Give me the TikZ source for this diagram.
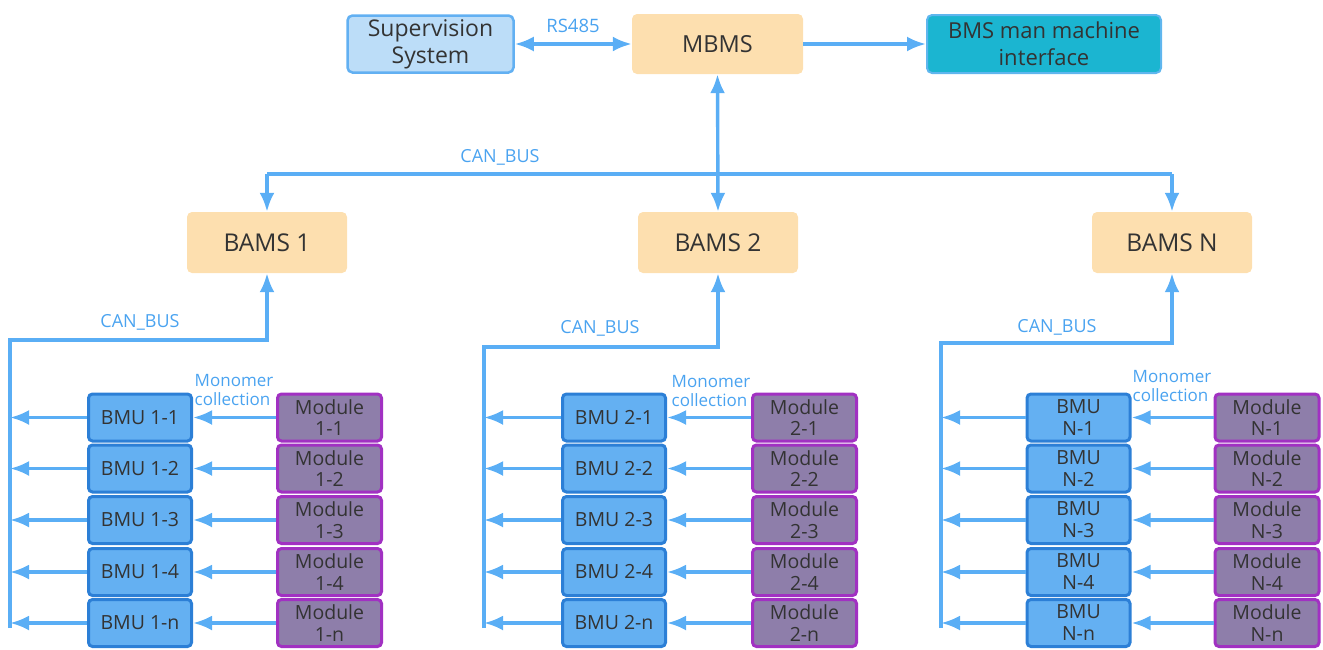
\documentclass[tikz,border=0pt]{standalone}
\usepackage{fontspec}
\setmainfont{Open Sans}
\usetikzlibrary{arrows.meta}
\definecolor{txt}{HTML}{333333}
\definecolor{arrc}{HTML}{5AAEF5}
\definecolor{lbl}{HTML}{4AA3F0}
\definecolor{supfill}{HTML}{BCDDF8}
\definecolor{supdraw}{HTML}{62B0F2}
\definecolor{orfill}{HTML}{FDDFAF}
\definecolor{hmifill}{HTML}{1BB5D1}
\definecolor{hmidraw}{HTML}{5FB6EE}
\definecolor{bmufill}{HTML}{64B0F2}
\definecolor{bmudraw}{HTML}{2C7FD6}
\definecolor{modfill}{HTML}{8E7EAA}
\definecolor{moddraw}{HTML}{A131C2}
\tikzset{
  topbox/.style={rounded corners=5pt, text=txt, align=center, inner sep=0pt,
    font=\fontsize{23}{27}\selectfont},
  supbox/.style={topbox, fill=supfill, draw=supdraw, line width=2.5pt,
    minimum width=166pt, minimum height=57pt},
  mbmsbox/.style={topbox, fill=orfill, minimum width=171pt, minimum height=60pt,
    font=\fontsize{23.5}{27}\selectfont},
  hmibox/.style={topbox, fill=hmifill, draw=hmidraw, line width=2pt,
    minimum width=234pt, minimum height=58pt, font=\fontsize{22}{27}\selectfont},
  bamsbox/.style={topbox, fill=orfill, minimum width=160pt, minimum height=61pt,
    font=\fontsize{24.5}{27}\selectfont},
  bmubox/.style={rounded corners=4pt, text=txt, align=center, inner sep=0pt,
    fill=bmufill, draw=bmudraw, line width=3pt, minimum width=103pt, minimum height=47pt,
    font=\fontsize{19.5}{22}\selectfont},
  modbox/.style={rounded corners=4pt, text=txt, align=center, inner sep=0pt,
    fill=modfill, draw=moddraw, line width=3pt, minimum width=104pt, minimum height=47pt,
    font=\fontsize{19.5}{21.5}\selectfont},
  conn/.style={draw=arrc, line width=3.4pt},
  arr/.style={conn, -{Latex[length=19pt,width=15pt]}},
  darr/.style={conn, {Latex[length=19pt,width=15pt]}-{Latex[length=19pt,width=15pt]}},
  buslbl/.style={text=lbl, font=\fontsize{18}{20}\selectfont, inner sep=0pt},
  monolbl/.style={text=lbl, font=\fontsize{17}{19}\selectfont, inner sep=0pt, align=left},
}
\begin{document}
\begin{tikzpicture}[x=1pt,y=-1pt]
\useasboundingbox (0,0) rectangle (1323,649);
% top row
\node[supbox] (sup) at (430.5,44) {Supervision\\System};
\node[mbmsbox] (mbms) at (717.5,44) {MBMS};
\node[hmibox] (hmi) at (1044,44) {BMS man machine\\interface};
\draw[darr] (sup.east) -- (mbms.west);
\node[buslbl, font=\fontsize{18.5}{20}\selectfont] (rs) at (573,26) {RS485};
\draw[arr] (mbms.east) -- (hmi.west);
% BAMS
\node[bamsbox] (bams1) at (267,242.5) {BAMS 1};
\node[bamsbox] (bams2) at (718,242.5) {BAMS 2};
\node[bamsbox] (bamsN) at (1172,242.5) {BAMS N};
\coordinate (cantop) at (0,174);
\draw[conn] (bams1.north |- cantop) -- (bamsN.north |- cantop);
\draw[arr] (bams1.north |- cantop) -- (bams1.north);
\draw[arr] (bamsN.north |- cantop) -- (bamsN.north);
\draw[darr] (mbms.south) -- (bams2.north);
\node[buslbl] (can0) at (500,157) {CAN\_BUS};
% groups
\foreach \g/\bx/\mx/\busx/\corner/\lx/\ly/\mlx/\mly/\gn in {
  1/140/329.5/10/340/140/322/234/390/1,
  2/614/804.5/484/347/600/328/711/391/2,
  3/1078.5/1267/941/343/1057/327/1172/386/N}{
  \coordinate (bus\g top) at (\busx,\corner);
  \coordinate (bus\g bot) at (\busx,628);
  \node[buslbl] (can\g) at (\lx,\ly) {CAN\_BUS};
  \node[monolbl] (mono\g) at (\mlx,\mly) {Monomer\\collection};
  \foreach \r/\y/\s in {1/417.5/1, 2/468.5/2, 3/520/3, 4/572/4, 5/623/n}{
    \ifnum\g=3
      \node[bmubox] (bmu\g\r) at (\bx,\y) {BMU\\\gn-\s};
    \else
      \node[bmubox] (bmu\g\r) at (\bx,\y) {BMU \gn-\s};
    \fi
    \node[modbox] (mod\g\r) at (\mx,\y) {Module\\\gn-\s};
    \draw[arr] (mod\g\r.west) -- (bmu\g\r.east);
    \draw[arr] (bmu\g\r.west) -- (bmu\g\r.west -| bus\g top);
  }
}
\draw[arr] (bus1bot) -- (bus1top) -| (bams1.south);
\draw[arr] (bus2bot) -- (bus2top) -| (bams2.south);
\draw[arr] (bus3bot) -- (bus3top) -| (bamsN.south);
\end{tikzpicture}
\end{document}
